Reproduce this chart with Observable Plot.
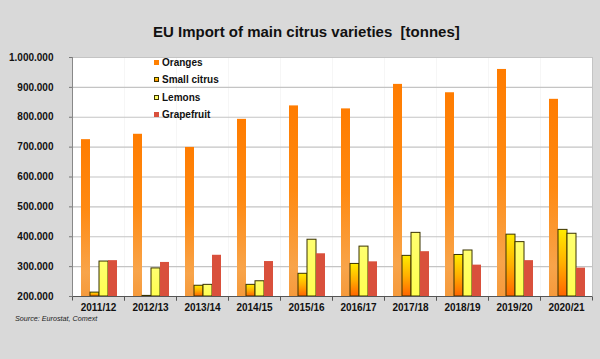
<!DOCTYPE html>
<html>
<head>
<meta charset="utf-8">
<script src="https://cdn.jsdelivr.net/npm/d3@7"></script>
<script src="https://cdn.jsdelivr.net/npm/@observablehq/plot@0.6"></script>
<style>
  html, body { margin: 0; padding: 0; background: #d9d9d9; }
  #wrap { position: relative; width: 600px; height: 359px; overflow: hidden; background: #d9d9d9; font-family: "Liberation Sans", Arial, sans-serif; }
  #title { position: absolute; left: 153px; top: 24px; font-size: 15px; line-height: 15px; font-weight: bold; white-space: pre; color: #111; }
  #source { position: absolute; left: 15px; top: 315px; font-size: 7.2px; line-height: 8px; font-style: italic; color: #222; }
  #legend { position: absolute; left: 154px; top: 57px; }
  #legend .row { height: 17.4px; font-size: 10px; line-height: 12px; font-weight: bold; color: #111; white-space: nowrap; }
  #legend .sw { display: inline-block; width: 5px; height: 5px; margin-right: 3px; vertical-align: 1px; box-sizing: border-box; }
  #chart { position: absolute; left: 0; top: 0; }
</style>
</head>
<body>
<div id="wrap">
  <div id="chart"></div>
  <div id="title"></div>
  <div id="legend"></div>
  <div id="source"></div>
</div>
<script>
const titleText = "EU Import of main citrus varieties  [tonnes]";
const sourceText = "Source: Eurostat, Comext";
const seasons = ["2011/12", "2012/13", "2013/14", "2014/15", "2015/16", "2016/17", "2017/18", "2018/19", "2019/20", "2020/21"];
const varieties = ["Oranges", "Small citrus", "Lemons", "Grapefruit"];
const oranges     = [725000, 743000, 699000, 793000, 838000, 828000, 910000, 882000, 960000, 860000];
const smallCitrus = [213000, 202000, 236000, 239000, 276000, 309000, 336000, 339000, 407000, 423000];
const lemons      = [317000, 294000, 239000, 251000, 390000, 367000, 413000, 354000, 382000, 410000];
const grapefruit  = [320000, 314000, 338000, 317000, 343000, 316000, 350000, 305000, 320000, 295000];
const yTicks = [200000, 300000, 400000, 500000, 600000, 700000, 800000, 900000, 1000000];
const baseline = 200000;

const series = [oranges, smallCitrus, lemons, grapefruit];
const data = seasons.flatMap((s, i) => varieties.map((v, j) => ({season: s, variety: v, value: series[j][i]})));

// styles
const fills = ["url(#gOr)", "url(#gSc)", "url(#gLe)", "#d9503c"];
const strokes = [null, "#3a3300", "#3a3300", null];
const swatchCss = [
  "background:#ff8000;",
  "background:linear-gradient(#ffe000,#ff7a00);border:1px solid #3a3300;",
  "background:#ffff66;border:1px solid #3a3300;",
  "background:#d9503c;"
];

const fmt = d3.formatLocale({decimal: ",", thousands: ".", grouping: [3], currency: ["", ""]}).format(",d");

const defsMark = () => {
  const defs = d3.create("svg:defs");
  const grad = (id, stops) => {
    const g = defs.append("linearGradient").attr("id", id).attr("x1", 0).attr("y1", 0).attr("x2", 0).attr("y2", 1);
    stops.forEach(([o, c]) => g.append("stop").attr("offset", o).attr("stop-color", c));
  };
  grad("gOr", [[0, "#ff7c00"], [0.45, "#ff8a12"], [0.85, "#f8a44a"], [1, "#f59a3c"]]);
  grad("gSc", [[0, "#ffec00"], [0.5, "#ffb000"], [1, "#ff6400"]]);
  grad("gLe", [[0, "#ffff70"], [1, "#ffff50"]]);
  return defs.node();
};

const tickSymbol = {draw(ctx) { ctx.moveTo(0, 0); ctx.lineTo(0, 4); }};

const chart = Plot.plot({
  width: 600,
  height: 359,
  marginTop: 57,
  marginBottom: 63,
  marginLeft: 72,
  marginRight: 8,
  style: {background: "transparent", fontFamily: "'Liberation Sans', Arial, sans-serif", color: "#111"},
  fx: {domain: seasons, padding: 0, label: null},
  x: {domain: varieties, paddingInner: 0, paddingOuter: 0.84, align: 0.56, axis: null},
  y: {domain: [200000, 1000000], label: null},
  marks: [
    defsMark,
    Plot.frame({fill: "white", stroke: null}),
    Plot.gridY(yTicks, {stroke: "#c4c4c4", strokeOpacity: 1, strokeWidth: 1.2}),
    ...varieties.map((v, j) => Plot.barY(data.filter(d => d.variety === v), {
      fx: "season", x: "variety", y1: baseline, y2: "value",
      fill: fills[j], stroke: strokes[j], strokeWidth: 1
    })),
    Plot.frame({anchor: "bottom", stroke: "#555", strokeWidth: 1}),
    Plot.frame({anchor: "left", facetAnchor: "left", stroke: "#888", strokeWidth: 1}),
    Plot.frame({anchor: "right", facetAnchor: "right", stroke: "#c4c4c4", strokeWidth: 1}),
    Plot.dot([0], {frameAnchor: "bottom-right", symbol: tickSymbol, r: 3, fill: "none", stroke: "#555", strokeWidth: 1}),
    Plot.dot([0], {frameAnchor: "bottom-left", symbol: tickSymbol, r: 3, fill: "none", stroke: "#555", strokeWidth: 1}),
    Plot.axisY(yTicks, {anchor: "left", tickFormat: fmt, tickSize: 3, tickPadding: 16, fontSize: 10, fontWeight: "bold", stroke: "#777", label: null}),
    Plot.axisFx({anchor: "bottom", tickSize: 0, tickPadding: 7, fontSize: 10, fontWeight: "bold", label: null})
  ]
});
document.getElementById("chart").append(chart);
document.getElementById("title").textContent = titleText;
document.getElementById("source").textContent = sourceText;
const legend = d3.select("#legend");
varieties.forEach((v, j) => {
  const row = legend.append("div").attr("class", "row");
  row.append("span").attr("class", "sw").attr("style", swatchCss[j]);
  row.append("span").text(v);
});
</script>
</body>
</html>
